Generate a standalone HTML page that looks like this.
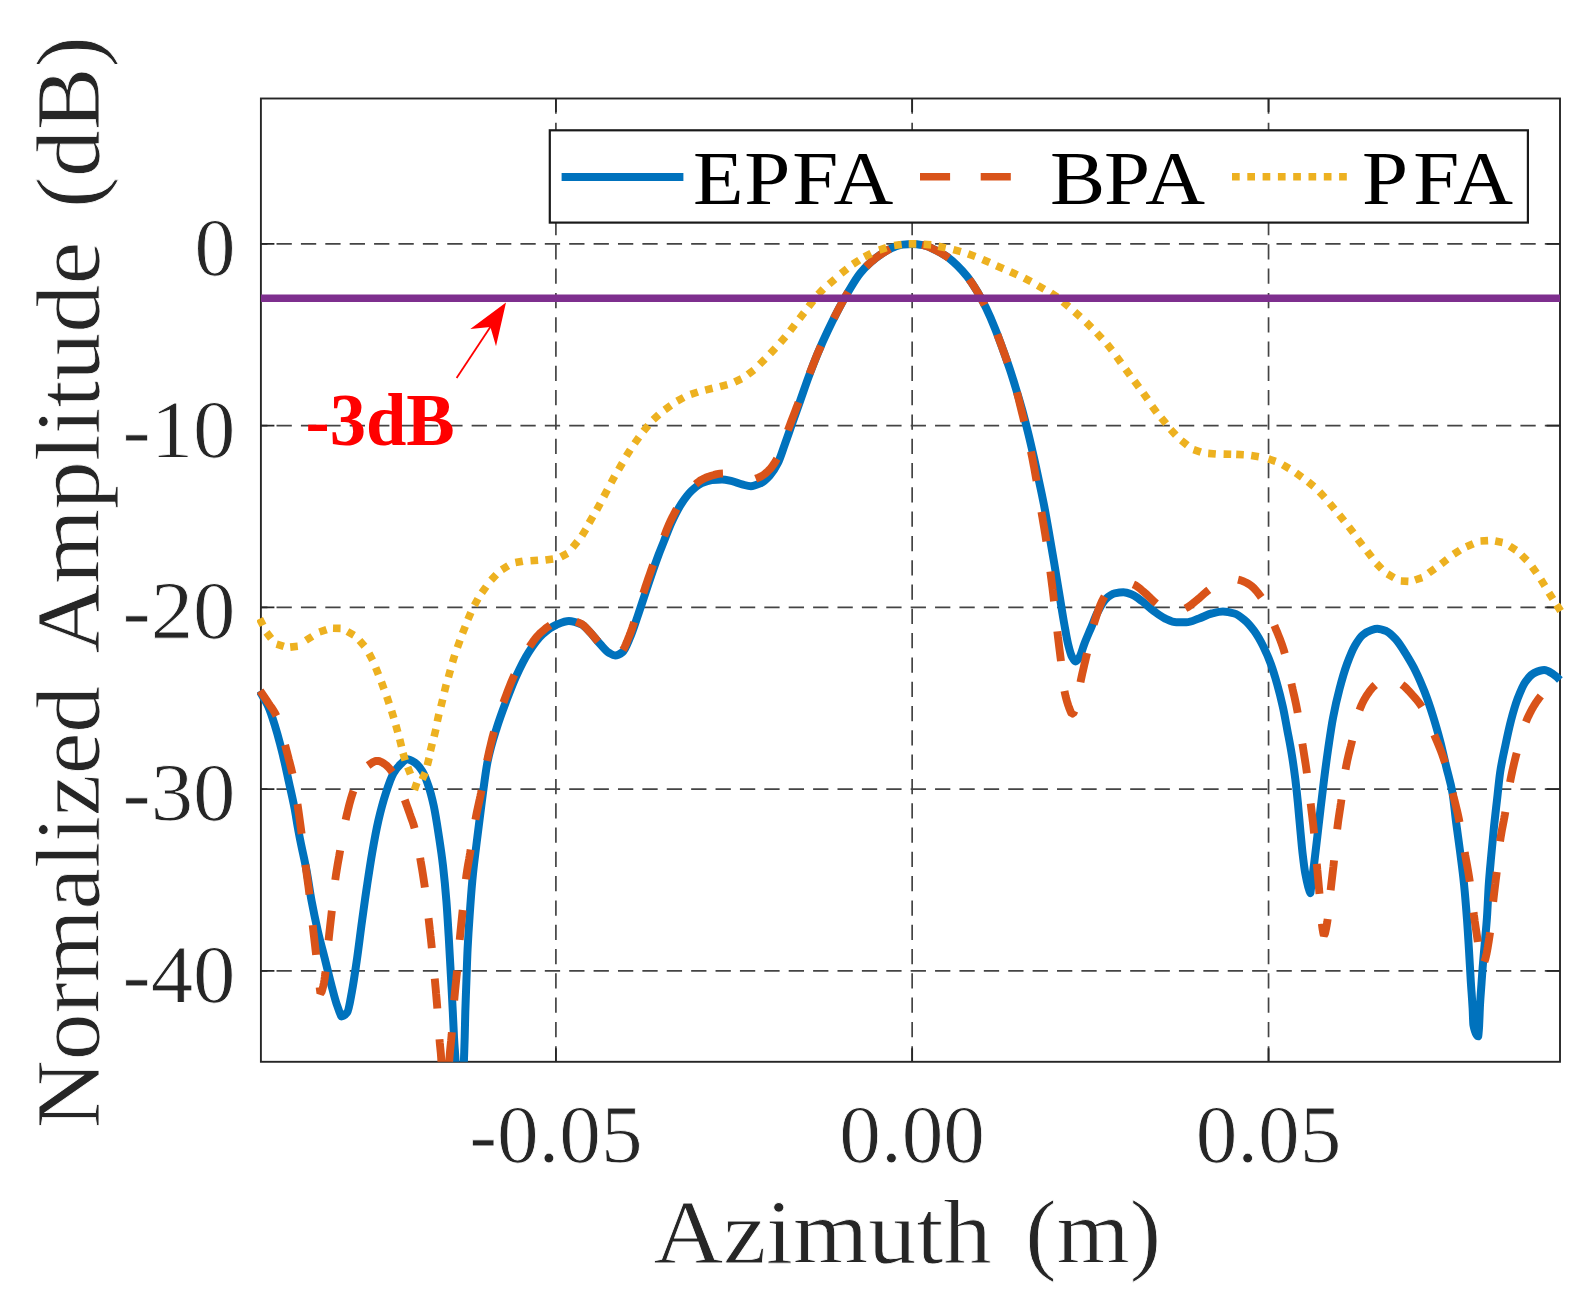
<!DOCTYPE html>
<html lang="en"><head><meta charset="utf-8"><title>Azimuth profile</title>
<style>
html,body{margin:0;padding:0;background:#fff}
svg{display:block}
text{font-family:"Liberation Serif",serif}
.tk{fill:#262626;stroke:#fff;stroke-width:0.8}
.lg{fill:#000;font-kerning:none}
</style></head><body>
<svg width="1588" height="1311" viewBox="0 0 1588 1311">
<rect width="1588" height="1311" fill="#fff"/>
<defs><clipPath id="ax"><rect x="257" y="98.5" width="1308" height="963.3"/></clipPath></defs>
<g stroke="#444" stroke-width="1.7" fill="none"><g stroke-dasharray="15.25 9.05"><path d="M555.90,98.50V1061.80"/><path d="M912.15,98.50V1061.80"/><path d="M1268.55,98.50V1061.80"/></g><g stroke-dasharray="15.3 9.09"><path d="M1560.10,243.85H260.90"/><path d="M1560.10,425.60H260.90"/><path d="M1560.10,607.35H260.90"/><path d="M1560.10,789.10H260.90"/><path d="M1560.10,970.85H260.90"/></g></g>
<g stroke="#262626" stroke-width="1.9" fill="none"><rect x="260.90" y="98.50" width="1299.10" height="963.30"/><path stroke-width="1.8" d="M555.90,98.50v13.5M555.90,1061.80v-13.5M912.15,98.50v13.5M912.15,1061.80v-13.5M1268.55,98.50v13.5M1268.55,1061.80v-13.5M260.90,243.85h13.5M1560.00,243.85h-13.5M260.90,425.60h13.5M1560.00,425.60h-13.5M260.90,607.35h13.5M1560.00,607.35h-13.5M260.90,789.10h13.5M1560.00,789.10h-13.5M260.90,970.85h13.5M1560.00,970.85h-13.5"/></g>
<g clip-path="url(#ax)" fill="none" stroke-width="7.6" stroke-linejoin="round">
<path stroke="#0072bd" stroke-width="8" d="M259.5,691.0C260.9,693.3 262.4,695.8 263.8,698.3C265.3,701.0 266.8,703.3 268.3,706.6C270.4,711.3 272.6,718.1 274.7,724.9C276.4,730.4 278.2,736.8 279.9,743.3C281.1,747.9 282.4,752.8 283.6,758.0C285.5,765.9 287.3,774.9 289.2,783.5C291.0,791.6 292.7,798.8 294.5,808.0C295.6,813.7 296.7,821.2 297.8,827.3C298.6,831.9 299.5,836.4 300.3,840.6C302.4,851.3 304.5,859.5 306.6,870.8C308.3,879.8 309.9,892.1 311.6,901.1C313.7,912.4 315.8,922.1 317.9,931.3C320.4,942.3 323.0,951.4 325.5,961.5C327.6,969.9 329.7,978.8 331.8,986.7C333.5,993.0 335.1,999.5 336.8,1004.5C338.3,1009.0 339.8,1013.1 341.3,1016.4C343.3,1016.4 345.3,1014.8 347.3,1012.3C348.8,1010.4 350.4,999.8 351.9,991.7C353.6,982.8 355.3,970.8 357.0,959.0C358.7,947.4 360.3,933.4 362.0,921.2C363.7,909.0 365.3,897.1 367.0,885.9C368.7,874.5 370.4,863.0 372.1,853.2C374.2,841.1 376.3,829.6 378.4,820.5C380.9,809.7 383.4,800.6 385.9,793.0C388.4,785.3 391.0,777.6 393.5,773.3C396.0,769.0 398.6,766.1 401.1,763.7C403.1,761.9 405.0,759.3 407.0,759.3C409.6,759.3 412.3,761.0 414.9,762.7C417.4,764.3 420.0,767.5 422.5,771.5C424.6,774.8 426.7,780.7 428.8,787.0C430.5,792.0 432.1,798.3 433.8,806.0C435.3,813.1 436.9,823.1 438.4,833.0C439.9,842.9 441.5,852.7 443.0,865.8C444.1,875.5 445.3,886.9 446.4,901.1C447.2,910.7 447.9,923.6 448.7,936.3C449.4,947.9 450.1,961.2 450.8,974.1C451.5,986.4 452.1,998.6 452.8,1011.9C453.2,1019.9 453.6,1030.0 454.0,1037.1C454.5,1046.6 455.1,1052.3 455.6,1061.5C456.4,1075.3 457.2,1089.3 458.0,1110.0C458.8,1131.5 459.7,1163.3 460.5,1200.0C461.2,1165.9 461.8,1135.9 462.5,1110.0C463.0,1091.9 463.4,1076.6 463.9,1061.5C464.2,1052.9 464.4,1046.6 464.7,1037.1C464.9,1030.0 465.1,1018.7 465.3,1011.9C465.6,1001.7 465.9,995.0 466.2,986.7C466.7,973.9 467.1,958.5 467.6,948.9C468.3,935.1 468.9,925.9 469.6,916.2C470.5,903.1 471.4,890.5 472.3,880.9C473.7,865.6 475.2,855.1 476.6,843.1C478.2,829.7 479.8,817.0 481.4,805.0C483.4,789.8 485.5,772.1 487.5,762.0C490.6,746.7 493.7,737.6 496.8,727.7C499.7,718.4 502.6,710.7 505.5,703.0C509.1,693.5 512.6,684.0 516.2,676.2C520.3,667.2 524.5,658.7 528.6,652.3C533.3,645.1 537.9,638.5 542.6,634.3C547.2,630.1 551.9,626.6 556.5,624.7C560.6,623.0 564.8,621.0 568.9,621.0C573.0,621.0 577.2,622.5 581.3,624.2C584.2,625.4 587.1,629.3 590.0,632.3C593.4,635.8 596.7,640.4 600.1,644.0C603.0,647.1 606.0,651.1 608.9,652.8C611.0,654.0 613.1,655.5 615.2,655.5C617.7,655.5 620.2,653.9 622.7,652.0C625.2,650.1 627.8,642.8 630.3,636.9C632.8,631.1 635.3,623.0 637.8,615.7C640.3,608.3 642.9,600.5 645.4,593.0C647.9,585.5 650.5,577.7 653.0,570.4C654.8,565.1 656.7,559.9 658.5,555.0C660.3,550.1 662.2,545.7 664.0,541.1C666.5,534.7 669.1,527.6 671.6,522.2C675.0,515.0 678.3,508.4 681.7,503.3C685.0,498.3 688.4,493.8 691.7,490.7C695.1,487.5 698.4,484.5 701.8,483.1C705.2,481.7 708.5,480.5 711.9,480.1C715.3,479.7 718.6,479.4 722.0,479.4C725.3,479.4 728.7,480.4 732.0,481.1C735.4,481.9 738.7,483.6 742.1,484.4C745.0,485.1 748.0,486.2 750.9,486.2C754.3,486.2 757.6,484.6 761.0,483.1C763.9,481.8 766.9,478.8 769.8,475.6C772.5,472.6 775.2,468.4 777.9,463.0C780.2,458.4 782.6,450.5 784.9,444.1C787.3,437.6 789.6,430.7 792.0,424.0C794.7,416.4 797.3,408.9 800.0,401.3C803.0,392.9 805.9,384.1 808.9,376.1C811.8,368.2 814.8,360.4 817.7,353.4C821.1,345.3 824.4,337.9 827.8,330.8C831.1,323.7 834.5,316.9 837.8,310.6C841.5,303.5 845.3,296.7 849.0,290.5C852.7,284.4 856.3,278.1 860.0,273.5C863.4,269.2 866.8,265.7 870.2,262.7C874.0,259.3 877.8,256.4 881.6,253.9C885.4,251.5 889.1,249.1 892.9,247.6C896.3,246.3 899.6,245.0 903.0,244.6C906.2,244.2 909.3,243.9 912.5,243.9C916.0,243.9 919.6,244.5 923.1,245.1C926.9,245.8 930.7,247.8 934.5,249.6C938.3,251.3 942.0,253.4 945.8,255.9C949.6,258.4 953.3,261.7 957.1,265.3C960.5,268.5 963.8,272.3 967.2,276.6C970.6,280.9 973.9,286.1 977.3,291.7C980.2,296.6 983.2,302.1 986.1,308.1C989.0,314.1 992.0,321.0 994.9,328.2C997.4,334.4 1000.0,341.4 1002.5,348.4C1005.0,355.3 1007.5,362.3 1010.0,369.8C1012.1,376.1 1014.2,383.0 1016.3,389.9C1018.4,396.8 1020.5,403.8 1022.6,411.4C1024.5,418.4 1026.5,426.1 1028.4,434.0C1030.3,441.6 1032.1,449.7 1034.0,458.0C1035.7,465.4 1037.3,473.2 1039.0,481.0C1040.7,488.8 1042.3,496.4 1044.0,505.0C1045.5,512.7 1047.0,521.5 1048.5,530.0C1050.4,540.8 1052.3,551.8 1054.2,563.1C1055.9,573.0 1057.5,583.3 1059.2,593.4C1060.9,603.5 1062.5,614.2 1064.2,623.6C1065.5,630.7 1066.7,638.5 1068.0,643.7C1069.3,648.9 1070.5,653.9 1071.8,656.3C1073.1,658.7 1074.3,661.4 1075.6,661.4C1076.8,661.4 1078.1,659.4 1079.3,657.6C1081.0,655.1 1082.7,648.0 1084.4,643.7C1086.5,638.3 1088.6,633.6 1090.7,628.6C1093.2,622.7 1095.7,615.7 1098.2,611.0C1100.7,606.2 1103.3,601.3 1105.8,599.0C1108.7,596.3 1111.7,594.0 1114.6,593.4C1117.5,592.8 1120.5,592.3 1123.4,592.3C1126.3,592.3 1129.3,593.6 1132.2,594.7C1135.6,596.0 1138.9,598.9 1142.3,601.4C1146.1,604.2 1149.9,608.2 1153.7,611.0C1157.5,613.8 1161.2,616.8 1165.0,618.5C1168.8,620.2 1172.5,622.3 1176.3,622.3C1179.7,622.3 1183.0,622.3 1186.4,622.3C1190.6,622.3 1194.8,619.9 1199.0,618.5C1203.2,617.1 1207.4,614.5 1211.6,613.5C1215.4,612.6 1219.1,611.5 1222.9,611.5C1226.7,611.5 1230.5,612.4 1234.3,613.5C1237.6,614.4 1241.0,617.1 1244.3,619.8C1247.7,622.5 1251.0,626.5 1254.4,631.1C1257.3,635.1 1260.3,640.4 1263.2,646.2C1265.7,651.2 1268.3,657.0 1270.8,663.9C1272.9,669.6 1275.0,676.5 1277.1,684.0C1279.0,690.7 1280.9,698.1 1282.8,706.7C1284.3,713.3 1285.7,721.6 1287.2,729.4C1288.7,737.5 1290.3,745.1 1291.8,754.6C1293.0,761.8 1294.1,769.7 1295.3,779.0C1296.1,785.7 1297.0,793.6 1297.8,802.0C1298.7,811.0 1299.6,822.5 1300.5,832.0C1301.3,840.1 1302.0,848.7 1302.8,855.3C1303.6,862.1 1304.4,868.8 1305.2,873.0C1306.9,882.1 1308.7,890.5 1310.4,893.0C1311.6,883.8 1312.9,874.1 1314.1,864.0C1315.2,855.0 1316.3,845.4 1317.4,836.0C1318.4,827.4 1319.4,818.5 1320.4,810.0C1321.6,799.8 1322.8,789.5 1324.0,780.0C1325.3,769.5 1326.7,759.2 1328.0,750.0C1329.7,738.5 1331.3,726.8 1333.0,718.0C1335.2,706.5 1337.3,697.3 1339.5,689.0C1342.0,679.4 1344.5,670.8 1347.0,664.0C1349.7,656.7 1352.3,650.1 1355.0,645.5C1357.6,641.1 1360.1,637.1 1362.7,635.0C1365.5,632.8 1368.2,631.2 1371.0,630.3C1373.1,629.6 1375.2,628.8 1377.3,628.8C1380.4,628.8 1383.4,630.0 1386.5,631.2C1389.7,632.5 1392.8,636.0 1396.0,639.5C1399.3,643.1 1402.7,648.8 1406.0,654.2C1409.3,659.6 1412.7,665.2 1416.0,671.9C1418.9,677.7 1421.7,684.4 1424.6,691.8C1427.4,699.0 1430.2,707.2 1433.0,716.1C1435.3,723.5 1437.7,731.5 1440.0,740.4C1442.1,748.4 1444.2,758.2 1446.3,767.0C1448.4,775.8 1450.5,781.5 1452.6,793.5C1453.8,800.4 1455.0,813.7 1456.2,823.0C1457.5,832.8 1458.7,841.1 1460.0,851.0C1461.3,861.4 1462.7,870.9 1464.0,884.0C1465.0,893.8 1466.0,906.0 1467.0,919.5C1467.7,928.5 1468.3,939.5 1469.0,950.4C1469.6,960.2 1470.2,971.9 1470.8,981.4C1471.4,990.9 1472.0,997.3 1472.6,1008.0C1472.9,1012.8 1473.1,1023.6 1473.4,1025.0C1475.0,1033.4 1476.6,1036.3 1478.2,1036.3C1478.5,1035.0 1478.7,1031.8 1479.0,1028.0C1479.3,1023.3 1479.7,1011.0 1480.0,1005.0C1480.5,996.7 1480.9,991.6 1481.4,985.0C1481.8,979.3 1482.2,973.1 1482.6,968.0C1483.3,959.5 1483.9,952.7 1484.6,945.0C1485.4,935.7 1486.2,928.5 1487.0,917.0C1487.6,908.4 1488.2,892.6 1488.8,884.0C1489.6,872.5 1490.4,864.9 1491.2,856.0C1492.1,845.7 1493.1,835.6 1494.0,826.6C1495.0,817.0 1496.0,808.8 1497.0,800.0C1498.1,790.6 1499.1,779.0 1500.2,772.0C1502.0,760.3 1503.7,753.3 1505.5,744.9C1507.3,736.2 1509.2,727.5 1511.0,720.5C1513.2,712.0 1515.5,704.3 1517.7,698.4C1520.3,691.7 1522.8,685.3 1525.4,681.8C1528.3,677.8 1531.3,674.3 1534.2,673.0C1537.5,671.5 1540.9,670.1 1544.2,670.1C1547.2,670.1 1550.1,672.3 1553.1,674.1C1555.4,675.5 1557.6,677.6 1559.9,680.0"/>
<path stroke="#d95319" stroke-width="7.9" stroke-linejoin="bevel" d="M260.10,690.80L261.81,693.26L263.51,695.74L265.18,698.23L266.84,700.73L268.49,703.24L270.20,705.70L271.94,708.14L273.58,710.65L275.08,713.25L276.41,715.92M285.06,744.92L285.83,747.82L286.60,750.72L287.36,753.62L288.11,756.53L288.85,759.43L289.61,762.34L290.37,765.24L291.12,768.14L291.83,771.06L292.49,773.98M297.48,804.19L297.92,807.16L298.36,810.13L298.78,813.09L299.20,816.07L299.61,819.04L300.02,822.01L300.43,824.98L300.83,827.95L301.22,830.93L301.62,833.90M305.47,864.78L305.86,867.76L306.25,870.73L306.66,873.70L307.07,876.67L307.49,879.65L307.90,882.62L308.30,885.59L308.69,888.56L309.06,891.54L309.42,894.52M312.68,925.15L313.02,928.13L313.36,931.11L313.70,934.09L314.06,937.07L314.41,940.05L314.76,943.03L315.11,946.01L315.45,948.99L315.79,951.97L316.11,954.95M319.63,987.37L320.01,990.34L320.41,993.32L321.58,991.98L322.47,989.11L323.21,986.21L323.86,983.28L324.37,980.32L324.81,977.35L325.21,974.38L325.59,971.40M328.56,940.51L328.86,937.53L329.18,934.54L329.50,931.56L329.83,928.58L330.16,925.60L330.50,922.61L330.84,919.63L331.18,916.65L331.51,913.67L331.85,910.69M335.25,879.95L335.67,876.98L336.11,874.01L336.57,871.04L337.05,868.08L337.55,865.12L338.06,862.17L338.59,859.22L339.12,856.26L339.64,853.31L340.16,850.35M345.66,819.84L346.31,816.91L346.99,813.99L347.68,811.07L348.39,808.16L349.13,805.25L349.90,802.35L350.71,799.46L351.56,796.58L352.45,793.72L353.42,790.88M368.09,765.45L370.53,763.71L373.05,762.09L375.81,760.93L378.78,760.86L381.53,762.03L384.05,763.66L386.47,765.43L388.60,767.53L390.54,769.82L392.35,772.21M404.76,799.88L405.79,802.70L406.82,805.52L407.84,808.34L408.84,811.17L409.83,814.00L410.83,816.83L411.85,819.65L412.85,822.48L413.77,825.33L414.59,828.22M420.15,857.89L420.65,860.84L421.16,863.80L421.65,866.76L422.14,869.72L422.62,872.68L423.09,875.64L423.55,878.61L423.99,881.58L424.43,884.54L424.84,887.52M428.55,918.29L428.90,921.27L429.24,924.25L429.58,927.23L429.91,930.21L430.25,933.19L430.57,936.18L430.90,939.16L431.22,942.14L431.53,945.13L431.84,948.11M434.76,978.66L435.03,981.64L435.30,984.63L435.57,987.62L435.84,990.61L436.10,993.60L436.36,996.58L436.61,999.57L436.86,1002.56L437.10,1005.55L437.33,1008.54M439.48,1039.29L439.73,1042.28L440.01,1045.26L440.32,1048.25L440.62,1051.23L440.89,1054.22L441.12,1057.21L441.32,1060.21L441.49,1063.20L441.64,1066.20L441.77,1069.19M449.16,1062.12L449.37,1059.13L449.61,1056.14L449.86,1053.15L450.14,1050.16L450.43,1047.17L450.74,1044.19L451.05,1041.21L451.34,1038.22L451.62,1035.23L451.88,1032.24M454.21,1000.38L454.47,997.39L454.74,994.40L455.02,991.42L455.32,988.43L455.62,985.45L455.93,982.46L456.24,979.48L456.53,976.49L456.82,973.51L457.10,970.52M459.70,939.87L459.98,936.89L460.27,933.90L460.56,930.92L460.86,927.93L461.17,924.95L461.47,921.96L461.78,918.98L462.09,915.99L462.40,913.01L462.71,910.03M465.88,879.36L466.27,876.39L466.70,873.42L467.15,870.45L467.62,867.49L468.12,864.53L468.64,861.57L469.16,858.62L469.67,855.66L470.17,852.71L470.65,849.74M475.40,819.72L475.96,816.77L476.54,813.83L477.14,810.89L477.77,807.96L478.41,805.03L479.06,802.10L479.71,799.17L480.35,796.24L480.97,793.30L481.57,790.36M487.07,760.94L487.70,758.01L488.34,755.07L488.99,752.15L489.65,749.22L490.33,746.30L491.02,743.38L491.73,740.46L492.45,737.55L493.20,734.65L493.96,731.75M503.37,702.72L504.40,699.90L505.45,697.09L506.50,694.28L507.56,691.47L508.64,688.68L509.74,685.88L510.87,683.10L512.02,680.33L513.20,677.57L514.41,674.83M529.49,646.65L531.18,644.17L532.92,641.73L534.72,639.33L536.60,636.99L538.59,634.75L540.72,632.64L542.98,630.66L545.28,628.74L547.66,626.91L550.15,625.23M576.26,621.69L579.05,622.80L581.77,624.05L584.14,625.89L586.23,628.03L588.24,630.26L590.28,632.46L592.28,634.70L594.21,636.99L596.11,639.31L598.03,641.62M623.00,649.96L624.50,647.37L625.75,644.64L626.91,641.87L628.02,639.09L629.16,636.31L630.26,633.52L631.29,630.70L632.26,627.86L633.20,625.02L634.12,622.16M643.30,593.33L644.24,590.48L645.18,587.63L646.14,584.79L647.10,581.95L648.07,579.11L649.05,576.27L650.04,573.44L651.03,570.61L652.02,567.78L653.03,564.95M664.21,536.12L665.30,533.32L666.39,530.53L667.52,527.75L668.68,524.98L669.91,522.25L671.20,519.54L672.53,516.85L673.90,514.18L675.31,511.53L676.77,508.91M695.60,484.29L697.86,482.32L700.28,480.54L702.88,479.06L705.59,477.77L708.38,476.66L711.23,475.74L714.12,474.94L717.03,474.18L719.98,473.65L722.97,473.55M755.71,478.73L758.48,477.59L761.20,476.31L763.76,474.75L766.09,472.87L768.27,470.81L770.35,468.65L772.25,466.33L773.98,463.88L775.57,461.34L777.04,458.72M787.88,430.44L788.93,427.63L789.98,424.82L791.04,422.02L792.11,419.21L793.18,416.41L794.25,413.61L795.32,410.81L796.40,408.01L797.48,405.21L798.55,402.40M809.61,373.59L810.71,370.80L811.80,368.01L812.90,365.21L814.01,362.43L815.12,359.64L816.26,356.86L817.41,354.09L818.58,351.33L819.76,348.58L820.96,345.83M833.83,318.35L835.18,315.67L836.55,313.00L837.94,310.34L839.34,307.69L840.76,305.04L842.19,302.41L843.64,299.78L845.11,297.17L846.60,294.56L848.12,291.98M866.02,266.69L868.15,264.59L870.36,262.56L872.63,260.59L874.95,258.69L877.33,256.86L879.77,255.12L882.27,253.47L884.80,251.85L887.37,250.31L890.01,248.88M921.95,244.90L924.88,245.51L927.72,246.49L930.47,247.69L933.18,248.98L935.89,250.26L938.57,251.61L941.20,253.05L943.77,254.59L946.29,256.23L948.71,257.99M969.17,279.21L970.90,281.66L972.57,284.15L974.20,286.67L975.79,289.22L977.35,291.78L978.87,294.37L980.34,296.98L981.78,299.61L983.17,302.27L984.54,304.94M997.35,334.45L998.41,337.26L999.46,340.07L1000.49,342.88L1001.52,345.70L1002.54,348.52L1003.57,351.34L1004.58,354.17L1005.59,356.99L1006.59,359.82L1007.58,362.65M1016.96,392.32L1017.72,395.23L1018.46,398.13L1019.18,401.05L1019.89,403.96L1020.59,406.88L1021.30,409.79L1022.02,412.70L1022.75,415.62L1023.47,418.53L1024.20,421.44M1030.97,451.42L1031.57,454.36L1032.16,457.30L1032.74,460.24L1033.31,463.19L1033.87,466.14L1034.42,469.08L1034.96,472.04L1035.49,474.99L1036.01,477.94L1036.53,480.90M1041.45,511.77L1041.93,514.74L1042.43,517.69L1042.93,520.65L1043.44,523.61L1043.95,526.57L1044.45,529.52L1044.94,532.48L1045.42,535.44L1045.88,538.41L1046.33,541.37M1050.35,571.51L1050.73,574.49L1051.11,577.47L1051.49,580.44L1051.87,583.42L1052.25,586.39L1052.61,589.37L1052.98,592.35L1053.34,595.33L1053.70,598.31L1054.04,601.29M1057.33,631.36L1057.68,634.34L1058.03,637.32L1058.40,640.30L1058.76,643.28L1059.13,646.25L1059.50,649.23L1059.87,652.21L1060.24,655.18L1060.61,658.16L1060.97,661.14M1064.48,690.98L1065.08,693.92L1065.75,696.84L1066.50,699.74L1067.35,702.62L1068.30,705.47L1069.32,708.29L1070.42,711.08L1071.66,713.81L1073.24,713.65L1074.46,710.91M1080.44,682.28L1081.05,679.34L1081.68,676.41L1082.33,673.48L1082.99,670.55L1083.67,667.63L1084.35,664.71L1085.04,661.79L1085.72,658.87L1086.40,655.95L1087.08,653.02M1093.72,624.42L1094.59,621.55L1095.49,618.69L1096.42,615.83L1097.37,612.99L1098.37,610.16L1099.41,607.35L1100.52,604.56L1101.71,601.81L1103.02,599.11L1104.50,596.50M1133.35,584.46L1136.08,585.69L1138.53,587.41L1140.82,589.34L1143.06,591.34L1145.34,593.29L1147.57,595.29L1149.73,597.38L1151.86,599.49L1154.04,601.55L1156.32,603.50M1185.40,608.38L1188.04,606.97L1190.50,605.25L1192.85,603.39L1195.16,601.48L1197.50,599.60L1199.79,597.66L1202.02,595.66L1204.24,593.64L1206.50,591.66L1208.84,589.79M1238.05,579.71L1240.96,580.41L1243.76,581.48L1246.45,582.81L1249.06,584.29L1251.52,586.00L1253.75,588.01L1255.80,590.20L1257.71,592.51L1259.53,594.90L1261.27,597.34M1274.38,625.57L1275.53,628.34L1276.70,631.11L1277.85,633.88L1278.98,636.66L1280.08,639.45L1281.13,642.26L1282.13,645.09L1283.09,647.93L1283.99,650.79L1284.83,653.67M1291.40,683.53L1292.05,686.46L1292.71,689.39L1293.38,692.31L1294.06,695.23L1294.72,698.16L1295.37,701.09L1295.99,704.02L1296.59,706.96L1297.17,709.91L1297.71,712.86M1302.35,743.53L1302.81,746.49L1303.28,749.46L1303.75,752.42L1304.23,755.38L1304.71,758.34L1305.18,761.30L1305.64,764.27L1306.09,767.23L1306.52,770.20L1306.93,773.17M1310.67,803.55L1311.03,806.53L1311.39,809.51L1311.75,812.48L1312.11,815.46L1312.47,818.44L1312.82,821.42L1313.16,824.40L1313.49,827.38L1313.80,830.37L1314.11,833.35M1316.78,863.97L1317.05,866.96L1317.32,869.95L1317.60,872.94L1317.87,875.93L1318.15,878.91L1318.42,881.90L1318.69,884.89L1318.96,887.88L1319.22,890.86L1319.48,893.85M1321.83,923.63L1322.22,926.60L1322.67,929.57L1323.17,932.53L1323.88,935.44L1324.90,933.74L1325.61,930.83L1326.21,927.89L1326.74,924.94L1327.24,921.98L1327.69,919.01M1330.63,890.20L1330.97,887.22L1331.31,884.24L1331.65,881.26L1332.01,878.28L1332.36,875.30L1332.71,872.32L1333.06,869.34L1333.41,866.36L1333.74,863.38L1334.06,860.40M1337.18,829.20L1337.55,826.22L1337.94,823.25L1338.35,820.27L1338.78,817.30L1339.22,814.34L1339.67,811.37L1340.13,808.41L1340.58,805.44L1341.02,802.47L1341.44,799.50M1345.56,769.56L1346.09,766.61L1346.67,763.67L1347.27,760.73L1347.92,757.80L1348.59,754.87L1349.30,751.96L1350.02,749.05L1350.75,746.14L1351.47,743.22L1352.16,740.31M1359.49,710.16L1360.56,707.36L1361.73,704.60L1363.02,701.88L1364.42,699.23L1365.95,696.65L1367.58,694.13L1369.29,691.67L1371.10,689.28L1373.07,687.02L1375.27,684.98M1401.93,684.62L1404.31,686.45L1406.49,688.50L1408.56,690.67L1410.57,692.90L1412.57,695.13L1414.58,697.36L1416.55,699.63L1418.43,701.96L1420.20,704.39L1421.83,706.90M1434.20,734.78L1435.35,737.55L1436.51,740.32L1437.68,743.08L1438.83,745.85L1439.96,748.63L1441.06,751.42L1442.11,754.23L1443.12,757.06L1444.08,759.90L1444.99,762.76M1452.65,793.03L1453.38,795.94L1454.12,798.85L1454.85,801.76L1455.58,804.67L1456.29,807.58L1456.99,810.50L1457.67,813.42L1458.32,816.35L1458.95,819.28L1459.55,822.22M1464.74,852.19L1465.25,855.15L1465.78,858.10L1466.32,861.05L1466.86,864.00L1467.39,866.96L1467.91,869.91L1468.41,872.87L1468.90,875.83L1469.36,878.79L1469.80,881.76M1473.54,912.36L1473.94,915.33L1474.36,918.30L1474.78,921.27L1475.22,924.24L1475.66,927.21L1476.10,930.17L1476.54,933.14L1476.99,936.11L1477.43,939.07L1477.86,942.04M1484.38,961.80L1485.32,958.95L1486.05,956.04L1486.68,953.11L1487.24,950.16L1487.76,947.21L1488.26,944.25L1488.72,941.28L1489.18,938.32L1489.62,935.35L1490.04,932.38M1493.19,901.75L1493.52,898.76L1493.86,895.78L1494.21,892.80L1494.57,889.83L1494.93,886.85L1495.30,883.87L1495.66,880.89L1496.02,877.91L1496.38,874.94L1496.72,871.95M1500.07,841.43L1500.50,838.46L1500.97,835.50L1501.47,832.54L1502.00,829.59L1502.56,826.64L1503.14,823.70L1503.72,820.76L1504.29,817.81L1504.83,814.86L1505.35,811.91M1510.05,782.18L1510.62,779.23L1511.21,776.29L1511.82,773.36L1512.46,770.42L1513.11,767.50L1513.79,764.57L1514.49,761.66L1515.21,758.74L1515.95,755.84L1516.70,752.93M1525.89,721.97L1527.06,719.21L1528.30,716.48L1529.60,713.77L1530.96,711.10L1532.40,708.46L1533.90,705.87L1535.49,703.33L1537.17,700.84L1538.94,698.41L1540.80,696.06"/>
<path stroke="#edb120" d="M259.6,618.6L263.0,625.4M266.5,632.4L271.1,638.4M276.6,644.1L283.8,646.3M290.2,647.1L297.8,646.3M305.9,640.4L312.3,636.4M319.4,632.0L326.6,629.6M333.0,628.2L340.6,628.4M347.4,631.5L354.0,635.3M359.5,640.5L364.5,646.3M369.0,653.4L372.6,660.2M375.7,667.6L378.5,674.6M381.4,681.9L384.0,689.1M386.8,696.5L389.2,703.7M391.6,710.9L393.8,718.1M395.8,724.9L397.8,732.3M399.7,739.2L401.5,746.6M403.0,753.2L405.2,760.4M407.7,767.1L410.5,774.1M412.0,785.2L419.2,787.6M422.1,779.5L425.3,772.7M427.3,765.4L429.1,758.0M430.4,751.0L432.2,743.6M434.1,736.6L435.9,729.2M437.3,721.5L438.9,714.1M440.9,706.7L442.7,699.3M444.4,691.9L446.2,684.5M448.4,677.3L450.4,669.9M452.5,662.3L454.7,655.1M457.4,647.5L460.0,640.3M462.5,633.4L465.3,626.4M467.9,619.6L470.9,612.6M474.4,605.4L478.0,598.8M481.8,592.8L486.2,586.6M491.1,580.2L496.3,574.6M501.8,569.7L508.2,565.7M515.4,562.6L522.8,561.2M530.5,560.8L538.1,560.2M545.5,560.0L553.1,559.0M560.9,556.9L567.5,553.3M572.7,547.3L577.5,541.5M581.9,535.7L585.9,529.3M589.1,523.0L592.9,516.4M596.7,509.9L600.3,503.3M603.8,496.6L607.4,489.8M611.1,482.7L614.7,476.1M618.6,469.6L622.4,463.0M626.3,456.1L630.3,449.7M634.6,443.4L639.0,437.2M643.5,431.1L648.3,425.3M653.2,419.8L658.8,414.6M664.7,409.8L670.9,405.4M677.1,401.1L683.7,397.5M690.7,394.4L697.9,392.0M705.2,390.1L712.6,388.3M720.0,386.7L727.4,384.7M734.7,382.0L741.5,378.8M747.9,374.6L753.9,370.0M759.6,364.4L765.0,359.0M770.2,353.7L775.4,348.1M780.4,342.5L785.4,336.7M790.2,330.7L794.8,324.7M799.5,318.6L804.1,312.6M808.6,306.6L813.2,300.6M818.1,294.4L823.3,289.0M829.1,284.1L834.9,279.1M841.1,273.5L847.1,268.7M852.8,264.3L859.2,260.1M864.3,256.9L871.1,253.5M879.2,250.1L886.4,247.7M894.1,245.6L901.7,244.6M908.7,243.9L916.3,243.9M923.6,244.3L931.2,244.9M938.3,246.3L945.7,247.9M953.4,249.7L960.8,251.7M968.1,253.9L975.3,256.5M982.6,259.5L989.6,262.5M996.4,265.8L1003.4,268.8M1010.3,271.7L1017.3,274.9M1024.3,278.1L1031.1,281.7M1037.7,285.5L1044.3,289.3M1050.9,292.9L1057.3,297.1M1063.0,301.9L1068.8,306.7M1074.7,311.9L1080.3,316.9M1086.2,322.3L1091.6,327.7M1096.8,333.0L1102.0,338.6M1107.1,344.1L1111.9,350.1M1116.6,356.6L1121.0,362.8M1125.7,369.2L1130.1,375.4M1134.4,381.1L1139.0,387.3M1143.3,393.1L1147.7,399.3M1152.1,406.2L1156.7,412.4M1161.3,417.8L1166.1,423.6M1170.6,429.5L1175.8,435.1M1181.3,440.4L1187.3,445.2M1193.6,449.7L1200.8,452.1M1208.2,453.4L1215.8,454.0M1223.6,454.1L1231.2,454.3M1236.2,454.4L1243.8,454.8M1251.2,455.6L1258.8,456.8M1268.4,458.9L1275.6,461.3M1282.7,464.8L1289.3,468.6M1295.9,472.9L1302.1,477.3M1308.1,481.7L1313.9,486.5M1319.5,491.9L1324.7,497.5M1329.7,503.3L1334.5,509.1M1339.3,514.8L1344.1,520.8M1348.8,526.8L1353.4,532.8M1357.8,539.2L1362.4,545.2M1367.2,551.2L1371.8,557.2M1376.5,563.5L1381.7,568.9M1387.4,573.9L1394.0,577.7M1400.8,581.0L1408.4,581.4M1415.0,580.0L1422.2,577.6M1428.7,573.0L1434.9,568.6M1441.2,563.9L1447.2,559.3M1453.6,554.3L1460.0,550.1M1466.3,546.7L1473.3,543.7M1480.5,541.0L1488.1,540.6M1495.2,541.1L1502.6,542.5M1509.7,546.1L1516.1,550.3M1521.6,555.1L1527.0,560.5M1532.1,566.7L1536.5,572.9M1540.9,579.6L1544.9,586.0M1548.9,592.7L1552.9,599.1M1556.6,604.7L1560.6,611.1"/>
<path stroke="#7e2f8e" stroke-width="7.55" d="M260.90,298.3H1560.00"/>
</g>
<rect x="549.8" y="130.3" width="978.1" height="92.3" fill="#fff" stroke="#1a1a1a" stroke-width="2.2"/>
<g fill="none" stroke-width="7.6"><path stroke="#0072bd" stroke-width="8" d="M561.6,176.9H683.4"/><path stroke="#d95319" stroke-dasharray="30.1 30.6" d="M920,176.8H1041"/><path stroke="#edb120" stroke-dasharray="7.7 7.6" d="M1232,176.8H1354"/></g>
<g class="lg" font-size="76" transform="scale(1.09,1)"><text id="l1" y="204" x="635.9 682.7 726.9 764.7">EPFA</text><text id="l2" y="204" x="963.2 1012.8 1050.6">BPA</text><text id="l3" y="204" x="1249.5 1296.6 1333.3">PFA</text></g>
<path d="M456.6,377.9L491,326" stroke="#f00" stroke-width="1.8" fill="none"/><path d="M506,302.4L470.3,329L490.4,327.1L496,346.3Z" fill="#f00"/>
<text id="ann" x="305.5" y="444.9" font-size="74" font-weight="bold" fill="#f00" textLength="149.3" lengthAdjust="spacingAndGlyphs">-3dB</text>
<g class="tk" font-size="82" text-anchor="end"><text x="235.5" y="274.9" textLength="41.0" lengthAdjust="spacingAndGlyphs">0</text><text x="235.5" y="456.6" textLength="113.1" lengthAdjust="spacingAndGlyphs">-10</text><text x="235.5" y="638.4" textLength="113.1" lengthAdjust="spacingAndGlyphs">-20</text><text x="235.5" y="820.1" textLength="113.1" lengthAdjust="spacingAndGlyphs">-30</text><text x="235.5" y="1001.9" textLength="113.1" lengthAdjust="spacingAndGlyphs">-40</text></g>
<g class="tk" font-size="82" text-anchor="middle"><text x="555.9" y="1162.3" textLength="173.4" lengthAdjust="spacingAndGlyphs">-0.05</text><text x="912.1" y="1162.3" textLength="145.7" lengthAdjust="spacingAndGlyphs">0.00</text><text x="1268.5" y="1162.3" textLength="145.7" lengthAdjust="spacingAndGlyphs">0.05</text></g>
<text id="xl" class="tk" font-size="92" y="1262.5"><tspan x="653.4" textLength="338.2" lengthAdjust="spacingAndGlyphs">Azimuth</tspan> <tspan x="1025.3" textLength="135.8" lengthAdjust="spacingAndGlyphs">(m)</tspan></text>
<text id="yl" class="tk" font-size="92" transform="translate(99.2,1125.2) rotate(-90)"><tspan x="-2.7" textLength="441.9" lengthAdjust="spacingAndGlyphs">Normalized</tspan> <tspan x="471.6" textLength="411.8" lengthAdjust="spacingAndGlyphs">Amplitude</tspan> <tspan x="917.1" textLength="171.9" lengthAdjust="spacingAndGlyphs">(dB)</tspan></text>
</svg>
</body></html>
